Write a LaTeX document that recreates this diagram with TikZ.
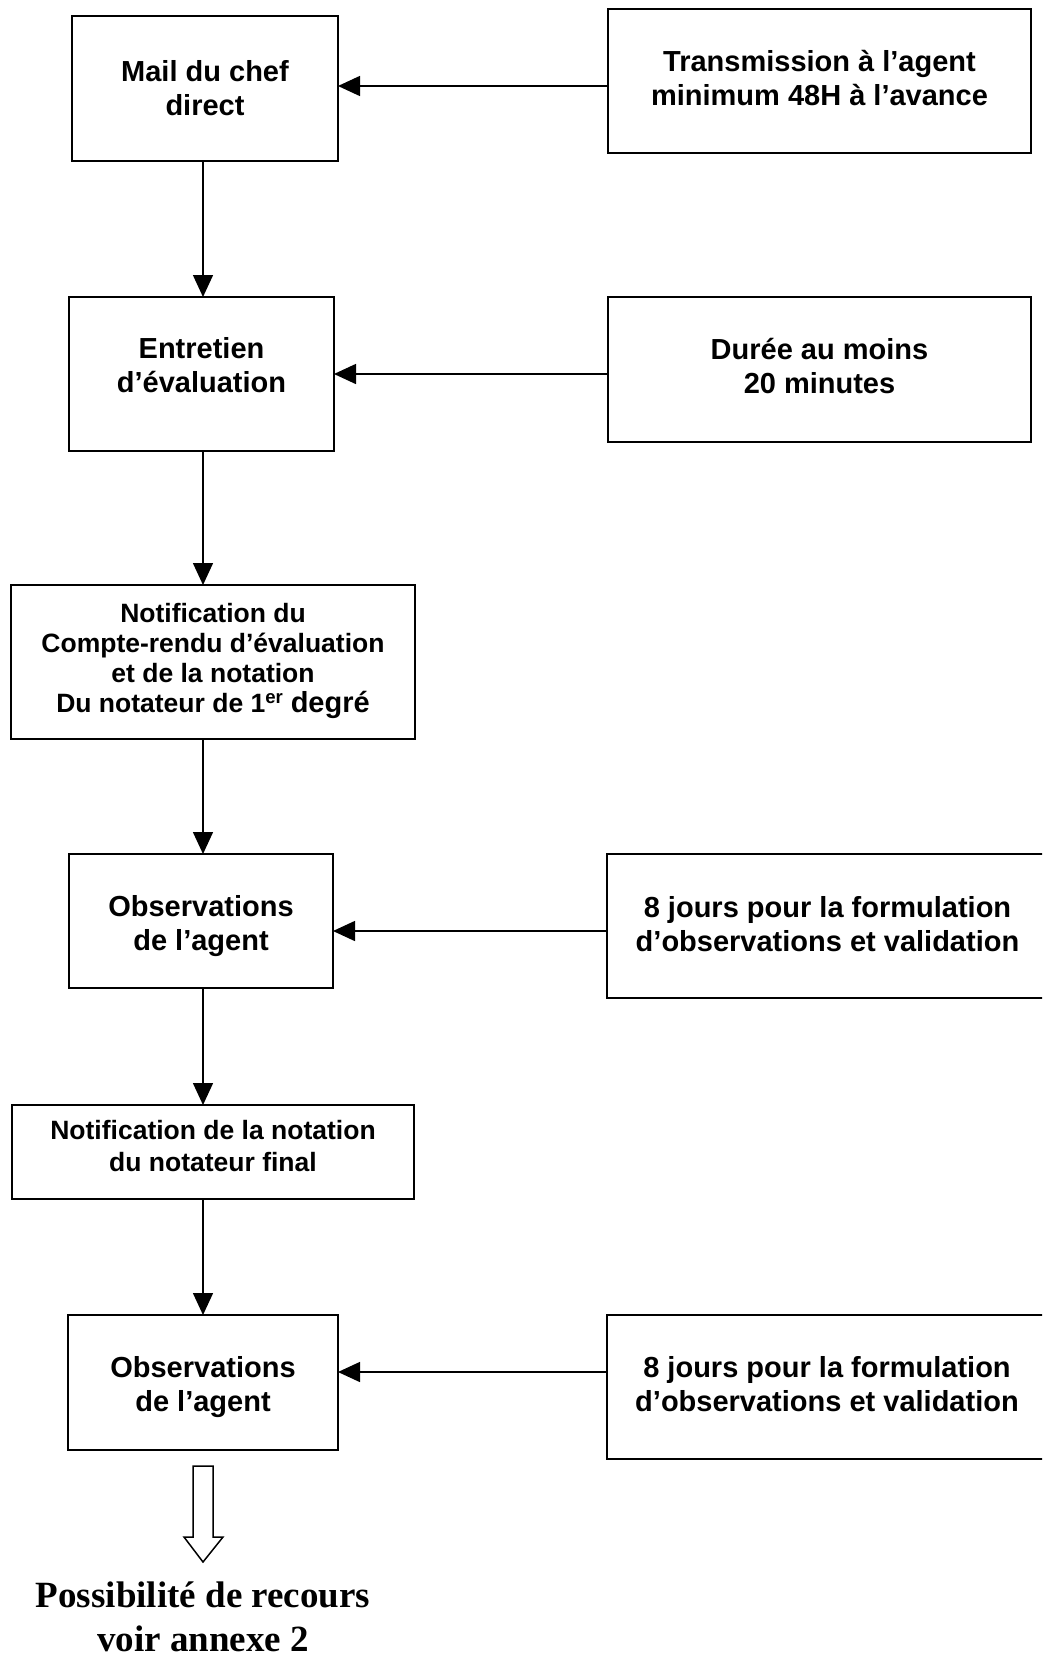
\documentclass[tikz,border=0pt]{standalone}
\usepackage{fontspec}
\setmainfont{Liberation Sans}
\newfontfamily\serifbold{Liberation Serif}
\usetikzlibrary{arrows.meta}
\begin{document}
\begin{tikzpicture}[x=1pt,y=-1pt,
  box/.style={draw,line width=2pt,inner sep=0pt,outer sep=0pt},
  txt/.style={inner sep=0pt,align=center,font=\fontsize{29}{34}\selectfont\bfseries},
  notetxt/.style={txt,font=\fontsize{26.5}{30}\selectfont\bfseries},
  rectxt/.style={inner sep=0pt,anchor=base,font=\fontsize{37}{42}\selectfont\serifbold\bfseries},
  arr/.style={line width=1.5pt,-{Triangle[length=22pt,width=20pt]}}]
\clip (0,0) rectangle (1042,1657);
\fill[white] (0,0) rectangle (1042,1657);
\coordinate (col) at (203,0);
% boxes
\node[box,minimum width=266pt,minimum height=145pt] (b1) at (205,88.5) {};
\node[box,minimum width=423pt,minimum height=144pt] (t1) at (819.5,81) {};
\node[box,minimum width=265pt,minimum height=154pt] (b2) at (201.5,374) {};
\node[box,minimum width=423pt,minimum height=145pt] (t2) at (819.5,369.5) {};
\node[box,minimum width=404pt,minimum height=154pt] (b3) at (213,662) {};
\node[box,minimum width=264pt,minimum height=134pt] (b4) at (201,921) {};
\node[box,minimum width=441pt,minimum height=144pt] (t4) at (827.5,926) {};
\node[box,minimum width=402pt,minimum height=94pt] (b5) at (213,1152) {};
\node[box,minimum width=270pt,minimum height=135pt] (b6) at (203,1382.5) {};
\node[box,minimum width=441pt,minimum height=144pt] (t6) at (827,1387) {};
% texts
\node[txt] (b1t) at (b1.center) {Mail du chef\\direct};
\node[txt] (t1t) at ([yshift=3pt]t1.center) {Transmission à l’agent\\minimum 48H à l’avance};
\node[txt] (b2t) at ([yshift=8.5pt]b2.center) {Entretien\\d’évaluation};
\node[txt] (t2t) at ([yshift=3pt]t2.center) {Durée au moins\\20 minutes};
\node[notetxt] (b3t) at ([yshift=1pt]b3.center) {Notification du\\Compte-rendu d’évaluation\\et de la notation\\Du notateur de 1\textsuperscript{er} {\fontsize{29}{35}\selectfont degré}};
\node[txt] (b4t) at ([yshift=-5pt]b4.center) {Observations\\de l’agent};
\node[txt] (t4t) at ([yshift=2pt]t4.center) {8 jours pour la formulation\\d’observations et validation};
\node[notetxt,font=\fontsize{26.5}{32.5}\selectfont\bfseries] (b5t) at ([yshift=6pt]b5.center) {Notification de la notation\\du notateur final};
\node[txt] (b6t) at ([yshift=-5pt]b6.center) {Observations\\de l’agent};
\node[txt] (t6t) at ([yshift=3pt]t6.center) {8 jours pour la formulation\\d’observations et validation};
\node[rectxt] (rec1) at (203,1607) {Possibilité de recours};
\node[rectxt] (rec2) at (203,1651) {voir annexe 2};
% horizontal arrows
\draw[arr] (t1.west |- 0,86) -- (b1.east |- 0,86);
\draw[arr] (t2.west |- 0,374) -- (b2.east |- 0,374);
\draw[arr] (t4.west |- 0,931) -- (b4.east |- 0,931);
\draw[arr] (t6.west |- 0,1372) -- (b6.east |- 0,1372);
% vertical arrows
\draw[arr] (b1.south -| col) -- (b2.north -| col);
\draw[arr] (b2.south -| col) -- (b3.north -| col);
\draw[arr] (b3.south -| col) -- (b4.north -| col);
\draw[arr] (b4.south -| col) -- (b5.north -| col);
\draw[arr] (b5.south -| col) -- (b6.north -| col);
% hollow arrow
\draw[line width=1.5pt,line join=miter] (193,1466) -- (213,1466) -- (213,1537) -- (223,1537) -- (203,1562) -- (184,1537) -- (193,1537) -- cycle;
\end{tikzpicture}
\end{document}
